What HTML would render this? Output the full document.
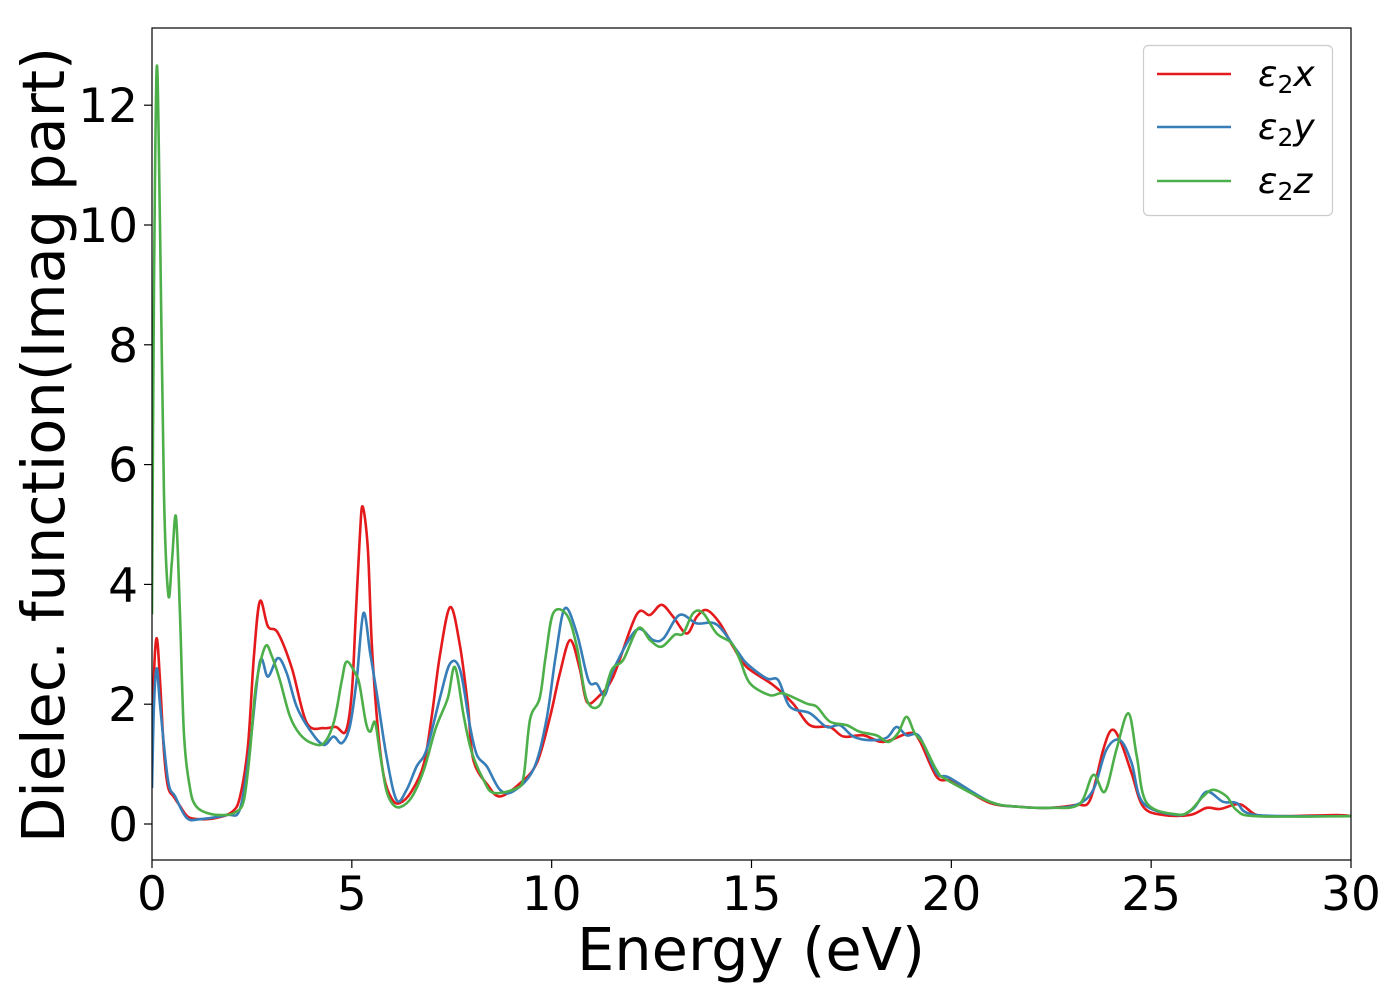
<!DOCTYPE html>
<html><head><meta charset="utf-8"><style>
html,body{margin:0;padding:0;background:#fff;}
svg{display:block;font-family:"DejaVu Sans","Liberation Sans",sans-serif;}
</style></head><body>
<svg id="chart" width="1400" height="1000" viewBox="0 0 1400 1000" xmlns="http://www.w3.org/2000/svg">
<rect x="0" y="0" width="1400" height="1000" fill="#fff"/>
<g id="series"></g>
<rect x="152" y="28" width="1199" height="832" fill="none" stroke="#000" stroke-width="1.2"/>
<g id="xticks"></g>
<g id="yticks"></g>
<text x="751" y="970" font-size="59" text-anchor="middle">Energy (eV)</text>
<text transform="translate(64,445) rotate(-90)" font-size="59" text-anchor="middle">Dielec. function(Imag part)</text>
<g>
<rect x="1143.5" y="45.5" width="189" height="170" rx="5" fill="#fff" fill-opacity="0.8" stroke="#ccc" stroke-width="1.2"/>
<g><line x1="1157" y1="74" x2="1231" y2="74" stroke="#e41a1c" stroke-width="2.5"/><text x="1258" y="86" font-size="36" font-style="italic">ε<tspan font-size="25" font-style="normal" dy="7">2</tspan><tspan dy="-7">x</tspan></text></g>
<g><line x1="1157" y1="127" x2="1231" y2="127" stroke="#377eb8" stroke-width="2.5"/><text x="1258" y="139" font-size="36" font-style="italic">ε<tspan font-size="25" font-style="normal" dy="7">2</tspan><tspan dy="-7">y</tspan></text></g>
<g><line x1="1157" y1="181" x2="1231" y2="181" stroke="#4daf4a" stroke-width="2.5"/><text x="1258" y="193" font-size="36" font-style="italic">ε<tspan font-size="25" font-style="normal" dy="7">2</tspan><tspan dy="-7">z</tspan></text></g>
</g>
</svg>
<script>
const xTicks = [0,5,10,15,20,25,30];
const yTicks = [0,2,4,6,8,10,12];
const energyX = [0,0.05,0.12,0.2,0.3,0.4,0.55,0.7,0.9,1.2,1.6,2.0,2.2,2.4,2.55,2.7,2.9,3.15,3.5,3.87,4.3,4.6,4.85,5.0,5.1,5.2,5.27,5.4,5.5,5.65,5.8,6.0,6.2,6.5,6.8,7.0,7.2,7.46,7.7,7.9,8.04,8.4,8.71,9.21,9.63,9.96,10.2,10.46,10.7,10.88,11.16,11.54,12.12,12.46,12.75,13.04,13.38,13.63,13.88,14.21,14.54,14.88,15.54,16.04,16.46,16.96,17.3,17.8,18.3,18.96,19.2,19.63,19.97,20.3,20.97,21.64,22.47,23.13,23.47,23.8,24.01,24.22,24.51,24.8,25.3,25.97,26.39,26.72,27.22,27.64,28.3,29.64,30];
const valuesX = [0.8,2.5,3.1,2.4,1.2,0.62,0.45,0.3,0.12,0.08,0.1,0.2,0.45,1.3,2.8,3.72,3.3,3.19,2.6,1.69,1.6,1.62,1.55,2.2,3.5,4.8,5.3,4.6,3.0,1.6,0.8,0.42,0.35,0.55,1.0,1.8,2.8,3.62,3.0,2.0,1.07,0.65,0.46,0.68,1.02,1.79,2.5,3.07,2.6,2.04,2.12,2.46,3.49,3.49,3.66,3.46,3.18,3.46,3.57,3.35,2.96,2.62,2.32,2.01,1.65,1.62,1.46,1.48,1.37,1.52,1.4,0.79,0.73,0.6,0.35,0.29,0.27,0.32,0.4,1.24,1.57,1.4,0.85,0.29,0.15,0.15,0.27,0.25,0.33,0.15,0.13,0.15,0.13];
const energyY = [0,0.05,0.12,0.2,0.4,0.58,0.87,1.2,1.87,2.2,2.45,2.7,2.9,3.15,3.37,3.62,3.95,4.29,4.54,4.75,4.95,5.12,5.29,5.46,5.62,5.87,6.12,6.37,6.62,6.87,7.21,7.46,7.71,7.96,8.13,8.38,8.71,9.05,9.55,9.87,10.1,10.33,10.63,10.92,11.13,11.33,11.54,12.12,12.54,12.8,13.2,13.63,14.13,14.63,14.88,15.38,15.67,15.96,16.46,16.88,17.21,17.55,17.96,18.38,18.63,18.88,19.2,19.63,19.96,20.97,21.64,22.47,23.13,23.55,23.88,24.22,24.51,24.8,25.64,26.06,26.39,26.8,27.14,27.64,30];
const valuesY = [0.6,2.0,2.6,2.0,0.73,0.46,0.1,0.08,0.15,0.25,1.29,2.71,2.46,2.77,2.52,1.96,1.57,1.32,1.46,1.35,1.63,2.4,3.52,2.85,2.2,1.12,0.4,0.57,0.96,1.24,2.12,2.68,2.57,1.62,1.15,0.96,0.57,0.55,0.92,1.74,2.8,3.6,3.18,2.4,2.34,2.15,2.57,3.24,3.07,3.1,3.49,3.35,3.33,2.9,2.68,2.43,2.4,1.96,1.85,1.62,1.65,1.46,1.4,1.44,1.62,1.48,1.46,0.85,0.77,0.37,0.29,0.27,0.32,0.57,1.24,1.4,1.02,0.35,0.15,0.26,0.54,0.37,0.35,0.15,0.13];
const energyZ = [0,0.05,0.12,0.2,0.3,0.41,0.5,0.6,0.7,0.8,0.95,1.1,1.4,1.8,2.1,2.3,2.45,2.6,2.83,3.0,3.2,3.45,3.7,4.0,4.3,4.55,4.75,4.87,5.1,5.2,5.35,5.46,5.58,5.7,5.85,6.0,6.2,6.5,6.8,7.1,7.4,7.58,7.8,8.0,8.3,8.55,9.13,9.3,9.46,9.7,9.85,10.04,10.38,10.63,10.88,11.21,11.5,11.79,12.17,12.46,12.75,13.08,13.29,13.54,13.79,14.13,14.5,14.71,14.96,15.46,15.79,16.38,16.63,16.96,17.38,17.71,18.13,18.42,18.67,18.88,19.08,19.29,19.63,19.88,20.97,21.64,22.47,23.2,23.55,23.84,24.13,24.43,24.64,24.89,25.64,25.97,26.3,26.55,26.89,27.14,27.64,30];
const valuesZ = [3.5,9.0,12.65,10.0,5.5,3.82,4.4,5.13,3.5,1.5,0.6,0.3,0.18,0.15,0.2,0.4,1.2,2.3,2.96,2.8,2.4,1.8,1.5,1.35,1.35,1.7,2.4,2.71,2.5,2.3,1.7,1.54,1.7,1.2,0.6,0.35,0.28,0.45,0.9,1.6,2.1,2.62,1.8,1.2,0.73,0.52,0.6,0.8,1.75,2.1,2.8,3.52,3.49,2.96,2.07,1.99,2.57,2.74,3.27,3.07,2.96,3.16,3.18,3.52,3.52,3.18,3.02,2.74,2.35,2.15,2.18,2.01,1.96,1.71,1.65,1.54,1.48,1.37,1.52,1.79,1.52,1.35,0.9,0.74,0.37,0.29,0.27,0.33,0.82,0.54,1.24,1.85,1.13,0.35,0.16,0.22,0.46,0.57,0.46,0.23,0.13,0.13];

const NS = 'http://www.w3.org/2000/svg';
const X0 = 152, X1 = 1351, XMIN = 0, XMAX = 30;
const YZERO = 824, YPER = 59.9;
function xs(v){ return X0 + (v - XMIN) / (XMAX - XMIN) * (X1 - X0); }
function ys(v){ return YZERO - v * YPER; }

function smoothPath(ex, vy){
  const p = ex.map((e,i)=>[xs(e), ys(vy[i])]);
  let d = 'M' + p[0][0].toFixed(2) + ',' + p[0][1].toFixed(2);
  for (let i = 0; i < p.length - 1; i++){
    const p0 = p[Math.max(0,i-1)], p1 = p[i], p2 = p[i+1], p3 = p[Math.min(p.length-1,i+2)];
    const c1x = p1[0] + (p2[0]-p0[0])/6, c1y = p1[1] + (p2[1]-p0[1])/6;
    const c2x = p2[0] - (p3[0]-p1[0])/6, c2y = p2[1] - (p3[1]-p1[1])/6;
    d += ' C' + c1x.toFixed(2)+','+c1y.toFixed(2)+' '+c2x.toFixed(2)+','+c2y.toFixed(2)+' '+p2[0].toFixed(2)+','+p2[1].toFixed(2);
  }
  return d;
}

const sg = document.getElementById('series');
const clip = document.createElementNS(NS,'clipPath');
clip.setAttribute('id','plotclip');
const cr = document.createElementNS(NS,'rect');
cr.setAttribute('x',X0); cr.setAttribute('y',28); cr.setAttribute('width',X1-X0); cr.setAttribute('height',832);
clip.appendChild(cr);
document.getElementById('chart').appendChild(clip);
sg.setAttribute('clip-path','url(#plotclip)');

function addLine(ex, vy, color, name){
  const path = document.createElementNS(NS,'path');
  path.setAttribute('d', smoothPath(ex, vy));
  path.setAttribute('fill','none');
  path.setAttribute('stroke',color);
  path.setAttribute('stroke-width','2.6');
  path.setAttribute('stroke-linejoin','round');
  
  
  sg.appendChild(path);
}
addLine(energyX, valuesX, '#e41a1c', 'series-eps2-x');
addLine(energyY, valuesY, '#377eb8', 'series-eps2-y');
addLine(energyZ, valuesZ, '#4daf4a', 'series-eps2-z');

const xg = document.getElementById('xticks');
xTicks.forEach(t=>{
  const l = document.createElementNS(NS,'line');
  l.setAttribute('x1',xs(t)); l.setAttribute('x2',xs(t)); l.setAttribute('y1',860); l.setAttribute('y2',868);
  l.setAttribute('stroke','#000'); l.setAttribute('stroke-width','1.2');
  
  
  xg.appendChild(l);
  const tx = document.createElementNS(NS,'text');
  tx.setAttribute('x',xs(t)); tx.setAttribute('y',910); tx.setAttribute('font-size','47'); tx.setAttribute('text-anchor','middle');
  tx.textContent = t;
  
  
  xg.appendChild(tx);
});
const yg = document.getElementById('yticks');
yTicks.forEach(t=>{
  const l = document.createElementNS(NS,'line');
  l.setAttribute('x1',144); l.setAttribute('x2',152); l.setAttribute('y1',ys(t)); l.setAttribute('y2',ys(t));
  l.setAttribute('stroke','#000'); l.setAttribute('stroke-width','1.2');
  
  
  yg.appendChild(l);
  const tx = document.createElementNS(NS,'text');
  tx.setAttribute('x',138); tx.setAttribute('y',ys(t)+17); tx.setAttribute('font-size','47'); tx.setAttribute('text-anchor','end');
  tx.textContent = t;
  
  
  yg.appendChild(tx);
});
</script>
</body></html>
